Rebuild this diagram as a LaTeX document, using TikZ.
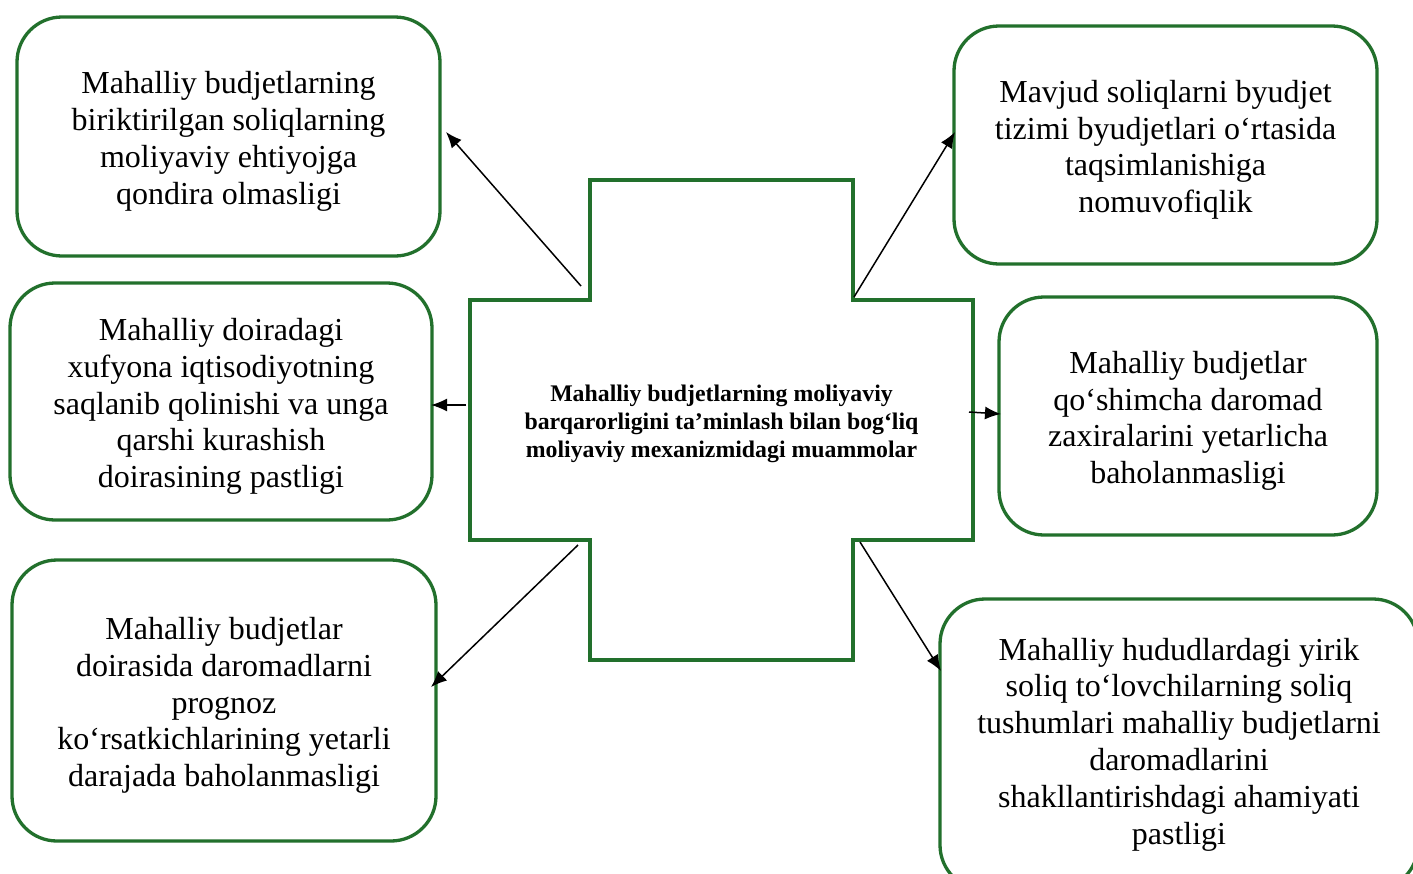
\documentclass[tikz,border=0pt]{standalone}
\usepackage{fontspec}
\setmainfont{Liberation Serif}
\usetikzlibrary{arrows.meta}
\definecolor{frame}{RGB}{34,112,44}
\newcommand\mytopstrut{\rule{0pt}{32pt}}
\newcommand\mycenterstrut{\rule{0pt}{22.5pt}}
\begin{document}
\begin{tikzpicture}[x=1pt,y=-1pt,
  box/.style={draw=frame, line width=3.3pt, rounded corners=45pt, align=center,
    font=\fontsize{32}{36.8}\selectfont, inner sep=0pt},
  arr/.style={-{Latex[length=16pt,width=13pt]}, line width=1.5pt},
  crossline/.style={draw=frame, line width=3.3pt}]
\clip (0,0) rectangle (1413,873);
\fill[white] (0,0) rectangle (1413,873);
% boxes
\node[box, minimum width=423pt, minimum height=239pt] (b1) at (228.5,136.5)
  {\mytopstrut Mahalliy budjetlarning\\biriktirilgan soliqlarning\\moliyaviy ehtiyojga\\qondira olmasligi};
\node[box, minimum width=422pt, minimum height=237pt] (b2) at (221,401.5)
  {\mytopstrut Mahalliy doiradagi\\xufyona iqtisodiyotning\\saqlanib qolinishi va unga\\qarshi kurashish\\doirasining pastligi};
\node[box, minimum width=424pt, minimum height=281pt] (b3) at (224,700.5)
  {\mytopstrut Mahalliy budjetlar\\doirasida daromadlarni\\prognoz\\ko‘rsatkichlarining yetarli\\darajada baholanmasligi};
\node[box, minimum width=423pt, minimum height=238pt] (b4) at (1165.5,145)
  {\mytopstrut Mavjud soliqlarni byudjet\\tizimi byudjetlari o‘rtasida\\taqsimlanishiga\\nomuvofiqlik};
\node[box, minimum width=378pt, minimum height=238pt] (b5) at (1188,416)
  {\mytopstrut Mahalliy budjetlar\\qo‘shimcha daromad\\zaxiralarini yetarlicha\\baholanmasligi};
\node[box, minimum width=478pt, minimum height=291pt] (b6) at (1179,744.5)
  {Mahalliy hududlardagi yirik\\soliq to‘lovchilarning soliq\\tushumlari mahalliy budjetlarni\\daromadlarini\\shakllantirishdagi ahamiyati\\pastligi};
% cross
\draw[crossline] (590,180) -- (853,180) -- (853,300) -- (973,300) -- (973,540) -- (853,540)
  -- (853,660) -- (590,660) -- (590,540) -- (470,540) -- (470,300) -- (590,300) -- cycle;
\node[align=center, font=\fontsize{23.8}{28}\selectfont\bfseries] (c) at (721.5,421)
  {\mycenterstrut Mahalliy budjetlarning moliyaviy\\barqarorligini ta’minlash bilan bog‘liq\\moliyaviy mexanizmidagi muammolar};
% arrow ends
\coordinate (s1) at (581,286); \coordinate (e1) at (446,132);
\coordinate (s2) at (466,405); \coordinate (e2) at (431,405);
\coordinate (s3) at (578,545); \coordinate (e3) at (431,687);
\coordinate (s4) at (854,297); \coordinate (e4) at (955,132);
\coordinate (s5) at (969,412); \coordinate (e5) at (1001,414);
\coordinate (s6) at (860,542); \coordinate (e6) at (941,671);
\draw[arr] (s1) -- (e1);
\draw[arr] (s2) -- (e2);
\draw[arr] (s3) -- (e3);
\draw[arr] (s4) -- (e4);
\draw[arr] (s5) -- (e5);
\draw[arr] (s6) -- (e6);
\end{tikzpicture}
\end{document}
